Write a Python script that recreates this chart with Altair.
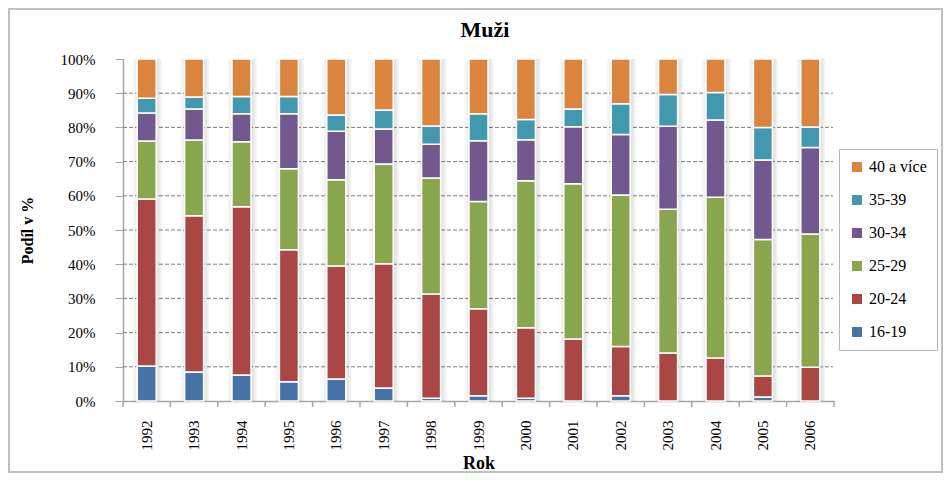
import altair as alt
import pandas as pd

# ---- data -------------------------------------------------------------
chart_title = "Muži"
x_title = "Rok"
y_title = "Podíl v %"

years = ["1992", "1993", "1994", "1995", "1996", "1997", "1998", "1999",
         "2000", "2001", "2002", "2003", "2004", "2005", "2006"]
groups = ["16-19", "20-24", "25-29", "30-34", "35-39", "40 a více"]
colors = ["#4572A7", "#AA4643", "#89A54E", "#71588F", "#4198AF", "#DB843D"]

s16_19 = [10.2, 8.5, 7.6, 5.6, 6.4, 3.8, 0.8, 1.5, 0.8, 0.0, 1.5, 0.0, 0.0, 1.2, 0.0]
s20_24 = [48.9, 45.7, 49.2, 38.6, 33.1, 36.3, 30.5, 25.5, 20.6, 18.1, 14.4, 14.0, 12.6, 6.1, 9.9]
s25_29 = [16.9, 22.1, 19.0, 23.7, 25.2, 29.2, 33.9, 31.3, 43.0, 45.4, 44.3, 42.1, 47.0, 39.9, 38.9]
s30_34 = [8.2, 9.1, 8.2, 16.1, 14.2, 10.2, 9.9, 17.8, 12.0, 16.7, 17.7, 24.2, 22.6, 23.3, 25.3]
s35_39 = [4.3, 3.5, 5.0, 5.0, 4.7, 5.6, 5.3, 7.9, 5.9, 5.2, 9.0, 9.3, 8.0, 9.5, 6.0]
s40plus = [11.5, 11.1, 11.0, 11.0, 16.4, 14.9, 19.6, 16.0, 17.7, 14.6, 13.1, 10.4, 9.8, 20.0, 19.9]

series = [s16_19, s20_24, s25_29, s30_34, s35_39, s40plus]
y_ticks = [0, 10, 20, 30, 40, 50, 60, 70, 80, 90, 100]
grid_vals = [10, 20, 30, 40, 50, 60, 70, 80, 90]

rows = []
for gi, (g, vals) in enumerate(zip(groups, series)):
    for yr, v in zip(years, vals):
        rows.append({"Rok": yr, "Skupina": g, "Podil": v, "poradi": gi})
df = pd.DataFrame(rows)
df["pct"] = df["Podil"] / df.groupby("Rok")["Podil"].transform("sum") * 100
df = df[df["Podil"] > 0]
df_tot = pd.DataFrame({"Rok": years, "tot": [100.0] * len(years)})
df_grid = pd.DataFrame({"g": grid_vals})
df_title = pd.DataFrame({"t": [chart_title]})

# ---- layout -----------------------------------------------------------
W, H = 711, 342
PAD = {"left": 115, "top": 51, "right": 109, "bottom": 72}
FONT = "'Liberation Serif', 'Times New Roman', 'DejaVu Serif', serif"
AXIS_GRAY = "#a6a6a6"
STEP = W / len(years)

xscale = alt.Scale(domain=years, paddingInner=0, paddingOuter=0)
yscale = alt.Scale(domain=[0, 100], nice=False)

x_axis = alt.Axis(
    title=x_title, labelAngle=-90, labelFont=FONT, labelFontSize=15,
    labelColor="black", labelPadding=19, ticks=False, domainColor=AXIS_GRAY,
    domainWidth=1.5, titleFont=FONT, titleFontSize=18, titleFontWeight="bold",
    titleColor="black", titleY=62, titleBaseline="middle", labelOverlap=False,
    grid=False,
)
y_axis = alt.Axis(
    title=y_title, values=y_ticks, labelExpr="datum.value + '%'",
    grid=False, tickSize=8, tickColor=AXIS_GRAY, domainColor=AXIS_GRAY,
    domainWidth=1.5, labelFont=FONT, labelFontSize=15, labelColor="black",
    labelPadding=20, labelOverlap=False, labelFlush=False, labelBound=False,
    titleFont=FONT, titleFontSize=16, titleFontWeight="bold", titleColor="black",
    titleX=-96, titleY=171, titleAngle=-90, titleAlign="center",
    titleBaseline="middle",
)

grid = alt.Chart(df_grid).mark_rule(
    color="#7f7f7f", strokeDash=[4, 2], strokeWidth=1
).encode(
    y=alt.Y("g:Q", scale=yscale, axis=y_axis),
    x=alt.value(0), x2=alt.value(W - 1),
)

# soft side shadows next to each bar
def side_shadow(offset, width, opacity):
    return alt.Chart(df_tot).mark_bar(
        size=width, color="#000000", opacity=opacity, xOffset=offset
    ).encode(
        x=alt.X("Rok:N", sort=years, scale=xscale, axis=x_axis),
        y=alt.Y("tot:Q", scale=yscale, axis=y_axis),
    )

shadows = [
    side_shadow(11.5, 3, 0.10), side_shadow(14.0, 2, 0.05),
    side_shadow(-11.0, 2, 0.06), side_shadow(-13.0, 2, 0.03),
]

bars = alt.Chart(df).mark_bar(
    size=19, stroke="white", strokeWidth=1.5
).encode(
    x=alt.X("Rok:N", sort=years, scale=xscale, axis=x_axis),
    y=alt.Y("pct:Q", stack="zero", scale=yscale, axis=y_axis),
    order=alt.Order("poradi:Q", sort="ascending"),
    color=alt.Color(
        "Skupina:N",
        scale=alt.Scale(domain=groups[::-1], range=colors[::-1]),
        legend=alt.Legend(
            title=None, orient="none", legendX=716, legendY=90,
            symbolType="square", symbolSize=100, symbolStrokeWidth=0,
            labelFont=FONT, labelFontSize=16, labelColor="black",
            labelOffset=4, rowPadding=17, padding=10,
            strokeColor="#b5b5b5", fillColor="white",
        ),
    ),
)

xticks = alt.Chart(df_tot).mark_rule(
    color=AXIS_GRAY, strokeWidth=1.5, xOffset=-STEP / 2
).encode(
    x=alt.X("Rok:N", sort=years, scale=xscale, axis=x_axis),
    y=alt.value(H), y2=alt.value(H + 6),
)
xtick_end = alt.Chart(df_title).mark_rule(
    color=AXIS_GRAY, strokeWidth=1.5
).encode(x=alt.value(W), y=alt.value(H), y2=alt.value(H + 6))

title = alt.Chart(df_title).mark_text(
    font=FONT, fontSize=22, fontWeight="bold", color="black",
    align="center", baseline="alphabetic",
).encode(text="t:N", x=alt.value(362), y=alt.value(-22))

border = alt.Chart(df_title).mark_rect(
    fill=None, stroke="#bfbfbf", strokeWidth=2
).encode(
    x=alt.value(-PAD["left"] + 1), x2=alt.value(W + PAD["right"] - 1),
    y=alt.value(-PAD["top"] + 1), y2=alt.value(H + PAD["bottom"] - 1),
)

chart = alt.layer(
    grid, *shadows, bars, xticks, xtick_end, title, border
).properties(
    width=W, height=H,
    autosize=alt.AutoSizeParams(type="none"),
    padding=PAD, background="white",
).configure_view(stroke=None).configure_legend(labelFont=FONT)

chart.save("out.html", embed_options={"renderer": "svg", "actions": False})
